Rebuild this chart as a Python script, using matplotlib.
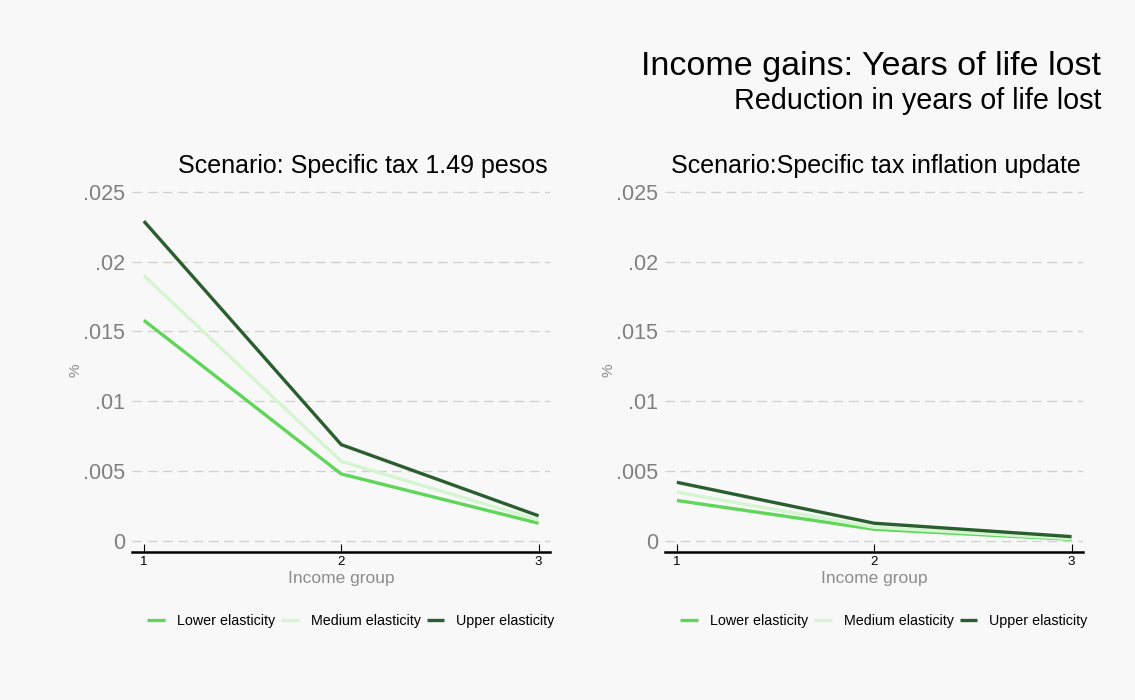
import matplotlib
matplotlib.use('Agg')
import matplotlib.pyplot as plt

plt.rcParams['font.family'] = ['Liberation Sans', 'DejaVu Sans']

income_groups = [1, 2, 3]
series_names = ['Lower elasticity', 'Medium elasticity', 'Upper elasticity']

# scenario 1: specific tax 1.49 pesos
lower_s1 = [0.0158, 0.0048, 0.00127]
medium_s1 = [0.0190, 0.0057, 0.00150]
upper_s1 = [0.0229, 0.0069, 0.00180]

# scenario 2: specific tax inflation update
lower_s2 = [0.0029, 0.00084, 0.00012]
medium_s2 = [0.0035, 0.00098, 0.00017]
upper_s2 = [0.0042, 0.00127, 0.00031]

panel_titles = ['Scenario: Specific tax 1.49 pesos',
                'Scenario:Specific tax inflation update']
y_ticks = [0, 0.005, 0.01, 0.015, 0.02, 0.025]
y_ticklabels = ['0', '.005', '.01', '.015', '.02', '.025']

colors = ['#5fd65a', '#d5f5d0', '#2b5e2f']
BG = '#f8f8f8'
W, H = 1135, 700

fig = plt.figure(figsize=(W / 100, H / 100), dpi=100, facecolor=BG)


def px_axes(x0, x1, ytop, ybot):
    return fig.add_axes([x0 / W, 1 - ybot / H, (x1 - x0) / W, (ybot - ytop) / H])


panels = [
    (132, 550, [lower_s1, medium_s1, upper_s1]),
    (665, 1083, [lower_s2, medium_s2, upper_s2]),
]

for i, (x0, x1, data) in enumerate(panels):
    ax = px_axes(x0, x1, 189, 552)
    ax.set_facecolor(BG)
    for vals, col, name in zip(data, colors, series_names):
        ax.plot(income_groups, vals, color=col, lw=2.4, label=name,
                solid_capstyle='butt')
    ax.set_xlim(0.94, 3.058)
    ax.set_ylim(-0.00079, 0.0252)
    ax.set_yticks(y_ticks)
    ax.set_yticklabels(y_ticklabels)
    ax.set_xticks(income_groups)
    for t in y_ticks:
        ax.axhline(t, color='#d2d2d2', lw=1.0, ls=(0, (7, 4)), zorder=0)
    for s in ['top', 'right', 'left']:
        ax.spines[s].set_visible(False)
    ax.spines['bottom'].set_linewidth(1.8)
    ax.tick_params(axis='y', length=0, labelsize=15.5, labelcolor='#808080', pad=5)
    ax.tick_params(axis='x', direction='in', length=6, width=0.8,
                   labelsize=9.5, labelcolor='black', pad=3)
    ax.set_xlabel('Income group', fontsize=12.5, color='#8c8c8c', labelpad=2)
    ax.set_ylabel('%', fontsize=11, color='#8c8c8c')
    ax.yaxis.set_label_coords(-0.118, 0.5)
    fig.text((x1 - 2) / W, 1 - 166 / H, panel_titles[i], ha='right', va='center',
             fontsize=18, color='black')
    cx = (x0 + x1) / 2 + 10
    fig.legend(*ax.get_legend_handles_labels(), loc='center',
               bbox_to_anchor=(cx / W, 1 - 621 / H), ncol=3, frameon=False,
               fontsize=10.3, handlelength=1.2, handletextpad=0.85,
               columnspacing=0.45)

fig.text(1101 / W, 1 - 67 / H, 'Income gains: Years of life lost', ha='right',
         va='center', fontsize=24.5, color='black')
fig.text(1101 / W, 1 - 101 / H, 'Reduction in years of life lost', ha='right',
         va='center', fontsize=20.7, color='black')

fig.savefig('out.png', dpi=100, facecolor=BG)
